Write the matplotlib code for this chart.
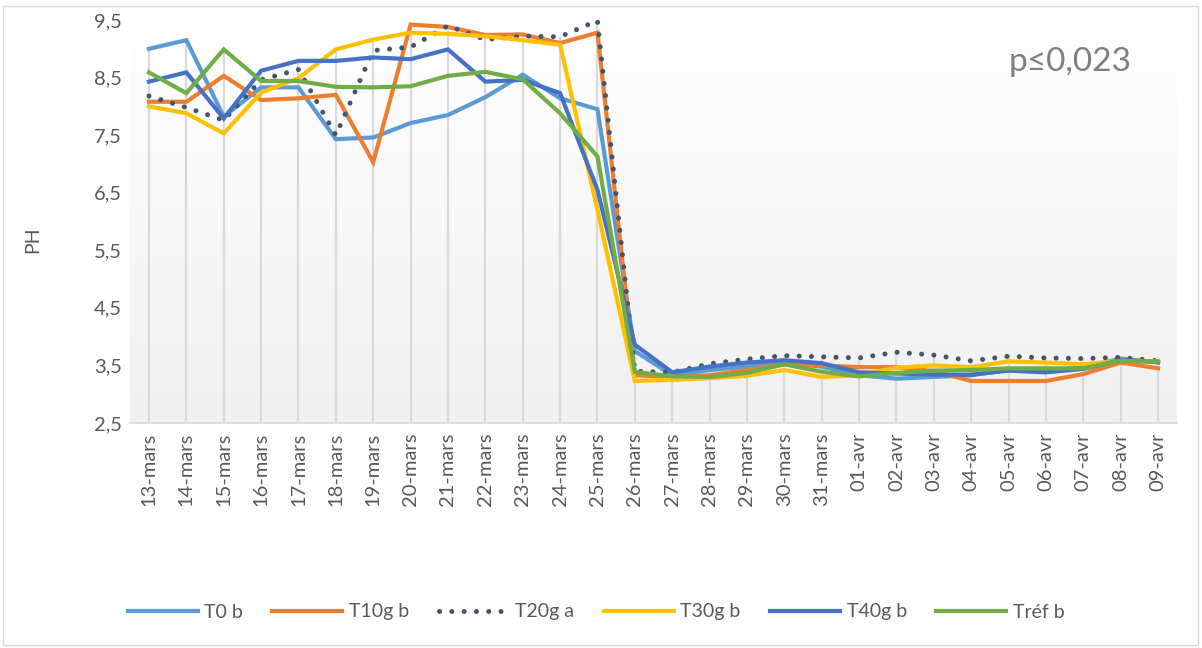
import matplotlib
matplotlib.use("Agg")
import matplotlib.pyplot as plt
import numpy as np
from matplotlib.colors import LinearSegmentedColormap
from matplotlib.patches import Rectangle

plt.rcParams['font.family'] = ['Lato', 'DejaVu Sans']

# dates
dates = ['13-mars', '14-mars', '15-mars', '16-mars', '17-mars', '18-mars', '19-mars',
         '20-mars', '21-mars', '22-mars', '23-mars', '24-mars', '25-mars', '26-mars',
         '27-mars', '28-mars', '29-mars', '30-mars', '31-mars', '01-avr', '02-avr',
         '03-avr', '04-avr', '05-avr', '06-avr', '07-avr', '08-avr', '09-avr']

# pH per treatment
t0 = [9.00, 9.15, 7.82, 8.33, 8.33, 7.43, 7.46, 7.71, 7.85, 8.16, 8.55, 8.14, 7.95, 3.75,
      3.33, 3.42, 3.48, 3.55, 3.48, 3.33, 3.27, 3.30, 3.33, 3.42, 3.42, 3.46, 3.62, 3.55]
t10 = [8.08, 8.08, 8.53, 8.11, 8.14, 8.20, 7.03, 9.42, 9.38, 9.24, 9.25, 9.10, 9.28, 3.33,
       3.30, 3.33, 3.42, 3.52, 3.50, 3.47, 3.47, 3.40, 3.23, 3.23, 3.23, 3.35, 3.55, 3.45]
t20 = [8.18, 7.98, 7.76, 8.46, 8.64, 7.50, 8.97, 9.03, 9.40, 9.16, 9.22, 9.21, 9.49, 3.40,
       3.38, 3.53, 3.61, 3.67, 3.65, 3.63, 3.73, 3.68, 3.58, 3.66, 3.63, 3.62, 3.64, 3.58]
t30 = [8.00, 7.88, 7.53, 8.24, 8.49, 8.99, 9.16, 9.28, 9.26, 9.22, 9.15, 9.07, 6.20, 3.23,
       3.25, 3.28, 3.32, 3.42, 3.30, 3.33, 3.46, 3.50, 3.47, 3.57, 3.55, 3.52, 3.58, 3.57]
t40 = [8.43, 8.59, 7.79, 8.62, 8.79, 8.79, 8.85, 8.82, 8.99, 8.43, 8.46, 8.23, 6.55, 3.86,
       3.38, 3.48, 3.55, 3.59, 3.54, 3.38, 3.36, 3.34, 3.34, 3.41, 3.38, 3.44, 3.59, 3.56]
tref = [8.59, 8.23, 8.99, 8.44, 8.44, 8.34, 8.33, 8.35, 8.53, 8.60, 8.47, 7.88, 7.13, 3.39,
        3.31, 3.30, 3.37, 3.52, 3.39, 3.31, 3.37, 3.41, 3.42, 3.45, 3.45, 3.45, 3.58, 3.57]

series = [
    ('T0 b', t0, '#5B9BD5', '-'),
    ('T10g b', t10, '#ED7D31', '-'),
    ('T20g a', t20, '#44546A', ':'),
    ('T30g b', t30, '#FFC000', '-'),
    ('T40g b', t40, '#4472C4', '-'),
    ('Tréf b', tref, '#70AD47', '-'),
]

TEXT = '#595959'
YMIN, YMAX = 2.5, 9.5

fig = plt.figure(figsize=(12.02, 6.48), dpi=100)
ax = fig.add_axes([0.1084, 0.3472, 0.8706, 0.6219])

x = np.arange(len(dates))
ax.set_xlim(-0.5, len(dates) - 0.5)
ax.set_ylim(YMIN, YMAX)

# plot area fill, white fading to light grey
grad = np.linspace(0, 1, 256).reshape(-1, 1)
cmap = LinearSegmentedColormap.from_list('area', ['#FFFFFF', '#F0F0F0'])
ax.imshow(grad, cmap=cmap, extent=[-0.5, len(dates) - 0.5, YMIN, YMAX],
          aspect='auto', origin='upper', zorder=0)

# drop lines from the highest value of each day
tops = np.max(np.array([s[1] for s in series]), axis=0)
ax.vlines(x, YMIN, tops, color='#D9D9D9', lw=1.6, zorder=1)

for name, vals, color, ls in series:
    if ls == ':':
        ax.plot(x, vals, color=color, lw=3.6, linestyle=(0, (0.01, 2.45)),
                dash_capstyle='round', label=name, zorder=3)
    else:
        ax.plot(x, vals, color=color, lw=3.0, label=name, zorder=3,
                solid_joinstyle='miter')

ax.set_xticks(x)
ax.set_xticklabels(dates, rotation=90, fontsize=14.5, color=TEXT)
ticks = np.arange(2.5, 9.51, 1.0)
ax.set_yticks(ticks)
ax.set_yticklabels([f'{t:.1f}'.replace('.', ',') for t in ticks], fontsize=14.5, color=TEXT)
ax.tick_params(axis='both', length=0)
ax.tick_params(axis='x', pad=7)
ax.tick_params(axis='y', pad=6)

for side in ['left', 'right', 'top']:
    ax.spines[side].set_visible(False)
ax.spines['bottom'].set_color('#D9D9D9')
ax.spines['bottom'].set_linewidth(1.2)

fig.text(0.027, 1 - 240 / 648, 'PH', rotation=90, fontsize=14, color=TEXT,
         ha='center', va='center')
ax.text(0.957, 0.896, 'p≤0,023', transform=ax.transAxes, fontsize=24, color='#7F7F7F',
        ha='right', va='center')

fig.legend(loc='center', bbox_to_anchor=(0.496, 1 - 612 / 648), ncol=6, frameon=False,
           fontsize=14, handlelength=3.6, columnspacing=1.5, handletextpad=0.35,
           labelcolor=TEXT)

# chart border
fig.patches.append(Rectangle((0.0025, 0.005), 0.994, 0.986, transform=fig.transFigure,
                             fill=False, ec='#D9D9D9', lw=1.0))

fig.savefig('out.png', dpi=100)
